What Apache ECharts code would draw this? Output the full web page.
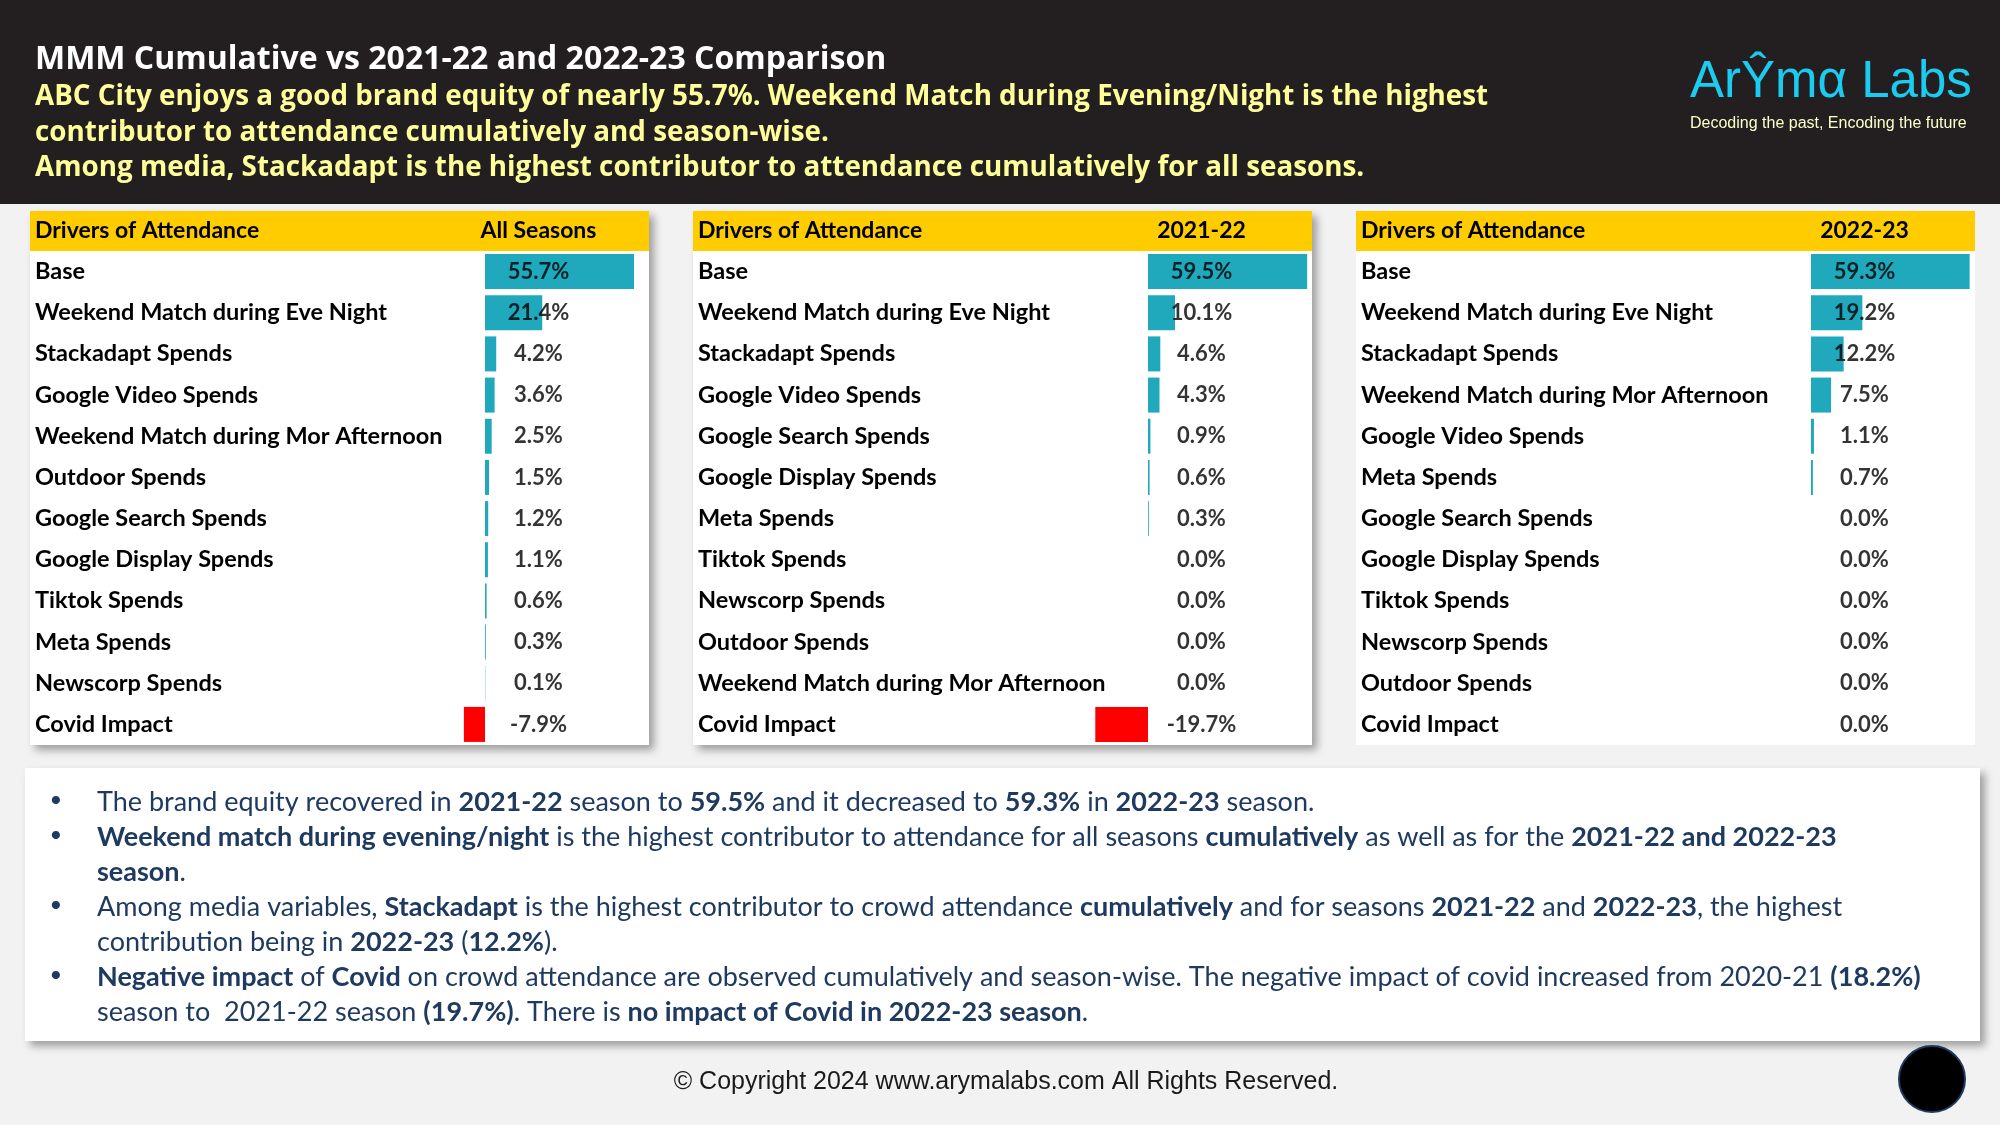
<!DOCTYPE html>
<html>
<head>
<meta charset="utf-8">
<title>MMM Cumulative vs 2021-22 and 2022-23 Comparison</title>
<script src="https://cdn.jsdelivr.net/npm/echarts@6/dist/echarts.min.js"></script>
<style>
  html, body { margin: 0; padding: 0; background: #f2f2f2; }
  #main { width: 2000px; height: 1125px; }
</style>
</head>
<body>
<div id="main"></div>
<script>
var seasonTitles = ['All Seasons', '2021-22', '2022-23'];

var driversAll = ['Base', 'Weekend Match during Eve Night', 'Stackadapt Spends', 'Google Video Spends',
  'Weekend Match during Mor Afternoon', 'Outdoor Spends', 'Google Search Spends', 'Google Display Spends',
  'Tiktok Spends', 'Meta Spends', 'Newscorp Spends', 'Covid Impact'];
var shareAll = [55.7, 21.4, 4.2, 3.6, 2.5, 1.5, 1.2, 1.1, 0.6, 0.3, 0.1, -7.9];

var drivers2122 = ['Base', 'Weekend Match during Eve Night', 'Stackadapt Spends', 'Google Video Spends',
  'Google Search Spends', 'Google Display Spends', 'Meta Spends', 'Tiktok Spends', 'Newscorp Spends',
  'Outdoor Spends', 'Weekend Match during Mor Afternoon', 'Covid Impact'];
var share2122 = [59.5, 10.1, 4.6, 4.3, 0.9, 0.6, 0.3, 0.0, 0.0, 0.0, 0.0, -19.7];

var drivers2223 = ['Base', 'Weekend Match during Eve Night', 'Stackadapt Spends', 'Weekend Match during Mor Afternoon',
  'Google Video Spends', 'Meta Spends', 'Google Search Spends', 'Google Display Spends', 'Tiktok Spends',
  'Newscorp Spends', 'Outdoor Spends', 'Covid Impact'];
var share2223 = [59.3, 19.2, 12.2, 7.5, 1.1, 0.7, 0.0, 0.0, 0.0, 0.0, 0.0, 0.0];

var tables = [
  { title: seasonTitles[0], drivers: driversAll, share: shareAll },
  { title: seasonTitles[1], drivers: drivers2122, share: share2122 },
  { title: seasonTitles[2], drivers: drivers2223, share: share2223 }
];

var headline = 'MMM Cumulative vs 2021-22 and 2022-23 Comparison';
var subLines = [
  'ABC City enjoys a good brand equity of nearly 55.7%. Weekend Match during Evening/Night is the highest',
  'contributor to attendance cumulatively and season-wise.',
  'Among media, Stackadapt is the highest contributor to attendance cumulatively for all seasons.'
];

// ** marks bold runs
var notes = [
  { dot: true,  text: 'The brand equity recovered in **2021-22** season to **59.5%** and it decreased to **59.3%** in **2022-23** season.' },
  { dot: true,  text: '**Weekend match during evening/night** is the highest contributor to attendance for all seasons **cumulatively** as well as for the **2021-22 and 2022-23**' },
  { dot: false, text: '**season**.' },
  { dot: true,  text: 'Among media variables, **Stackadapt** is the highest contributor to crowd attendance **cumulatively** and for seasons **2021-22** and **2022-23**, the highest' },
  { dot: false, text: 'contribution being in **2022-23** (**12.2%**).' },
  { dot: true,  text: '**Negative impact** of **Covid** on crowd attendance are observed cumulatively and season-wise. The negative impact of covid increased from 2020-21 **(18.2%)**' },
  { dot: false, text: 'season to  2021-22 season **(19.7%)**. There is **no impact of Covid in 2022-23 season**.' }
];

var TEAL = '#20a8bc';
var NAVY = '#1f3a60';
var tblFont = 'Lato, "Noto Sans", sans-serif';
var txtFont = 'Lato, "Noto Sans", sans-serif';
var headFont = '"Open Sans", Lato, sans-serif';
var arial = '"Liberation Sans", Arial, sans-serif';

var boxLeft = [30, 693, 1356];
var boxW = 619;
var zeroX = [485, 1148, 1811];
var pxPerPct = 2.675;
var vMin = -20, vMax = 60;
var headTop = 211, headH = 40, bodyTop = 251, bodyBottom = 745;

function toRich(s) {
  var parts = s.split('**');
  var out = '';
  for (var i = 0; i < parts.length; i++) {
    if (parts[i] === '') continue;
    out += '{' + (i % 2 ? 'b' : 'r') + '|' + parts[i] + '}';
  }
  return out;
}

var grids = [], xAxes = [], yAxes = [], series = [], gfx = [];

// header band
gfx.push({ type: 'rect', shape: { x: 0, y: 0, width: 2000, height: 204 }, style: { fill: '#231f20' }, z: -10 });
gfx.push({ type: 'text', x: 35, y: 59.5, style: { text: headline, fill: '#ffffff', font: 'bold 32px ' + headFont, verticalAlign: 'middle' } });
for (var s = 0; s < subLines.length; s++) {
  gfx.push({ type: 'text', x: 35, y: 97.5 + s * 35.5, style: { text: subLines[s], fill: '#ffff99', font: 'bold 27.8px ' + headFont, verticalAlign: 'middle' } });
}
gfx.push({ type: 'text', x: 1690, y: 83, style: { text: 'Ar\u0176m\u03b1 Labs', fill: '#1ccbf0', font: '51px ' + arial, verticalAlign: 'middle' } });
gfx.push({ type: 'text', x: 1690, y: 124, style: { text: 'Decoding the past, Encoding the future', fill: '#ffffcc', font: '16px ' + arial, verticalAlign: 'middle' } });

tables.forEach(function (t, i) {
  var gl = zeroX[i] - (0 - vMin) * pxPerPct;
  var shadow = i < 2 ? { shadowBlur: 8, shadowOffsetX: 5, shadowOffsetY: 5, shadowColor: 'rgba(0,0,0,0.35)' } : {};
  gfx.push({ type: 'rect', z: -5, shape: { x: boxLeft[i], y: headTop, width: boxW, height: bodyBottom - headTop },
    style: Object.assign({ fill: '#ffffff' }, shadow) });
  gfx.push({ type: 'rect', z: -4, shape: { x: boxLeft[i], y: headTop, width: boxW, height: headH }, style: { fill: '#ffcc00' } });
  gfx.push({ type: 'text', x: boxLeft[i] + 5, y: headTop + headH / 2, style: { text: 'Drivers of Attendance', fill: '#000', font: 'bold 23px ' + tblFont, verticalAlign: 'middle' } });
  gfx.push({ type: 'text', x: zeroX[i] + 20 * pxPerPct, y: headTop + headH / 2, style: { text: t.title, fill: '#000', font: 'bold 23px ' + tblFont, align: 'center', verticalAlign: 'middle' } });

  grids.push({ left: gl, top: bodyTop, width: (vMax - vMin) * pxPerPct, height: bodyBottom - bodyTop, containLabel: false });
  xAxes.push({ gridIndex: i, type: 'value', min: vMin, max: vMax, show: false });
  yAxes.push({
    gridIndex: i, type: 'category', data: t.drivers, inverse: true,
    axisLine: { show: false }, axisTick: { show: false }, splitLine: { show: false },
    axisLabel: { align: 'left', margin: gl - (boxLeft[i] + 5), color: '#000', fontFamily: tblFont, fontWeight: 'bold', fontSize: 23.5 }
  });
  series.push({
    type: 'bar', xAxisIndex: i, yAxisIndex: i, barWidth: 35, silent: true,
    data: t.share.map(function (v) {
      return { value: v, itemStyle: { color: v < 0 ? '#ff0000' : TEAL } };
    })
  });
  // value column sits at a fixed spot (20 on the value scale)
  series.push({
    type: 'scatter', xAxisIndex: i, yAxisIndex: i, symbolSize: 1, silent: true, z: 5,
    itemStyle: { color: 'rgba(0,0,0,0)' },
    data: t.share.map(function (v, j) { return [20, j, v]; }),
    label: {
      show: true, position: 'inside', color: '#000', fontFamily: tblFont, fontWeight: 'bold', fontSize: 22,
      formatter: function (p) { return p.value[2].toFixed(1) + '%'; }
    }
  });
});

// notes box
gfx.push({ type: 'rect', z: -5, shape: { x: 25, y: 768, width: 1955, height: 273 },
  style: { fill: '#ffffff', shadowBlur: 8, shadowOffsetX: 5, shadowOffsetY: 5, shadowColor: 'rgba(0,0,0,0.35)' } });
var richStyles = {
  r: { fontFamily: txtFont, fontSize: 27, fill: NAVY },
  b: { fontFamily: txtFont, fontSize: 27, fontWeight: 'bold', fill: NAVY }
};
notes.forEach(function (n, k) {
  var y = 802 + k * 35;
  if (n.dot) {
    gfx.push({ type: 'text', x: 56, y: y - 2, style: { text: '\u2022', fill: NAVY, font: '22px ' + txtFont, align: 'center', verticalAlign: 'middle' } });
  }
  gfx.push({ type: 'text', x: 97, y: y, style: { text: toRich(n.text), rich: richStyles, fill: NAVY, font: '27px ' + txtFont, verticalAlign: 'middle' } });
});

// footer
gfx.push({ type: 'text', x: 1006, y: 1082, style: { text: '\u00a9 Copyright 2024 www.arymalabs.com All Rights Reserved.', fill: '#1a1a1a', font: '25px ' + arial, align: 'center', verticalAlign: 'middle' } });
gfx.push({ type: 'circle', shape: { cx: 1932, cy: 1079, r: 33 }, style: { fill: '#000000', stroke: '#1f3a5f', lineWidth: 2 } });

var chart = echarts.init(document.getElementById('main'));
chart.setOption({
  backgroundColor: '#f2f2f2',
  animation: false,
  grid: grids,
  xAxis: xAxes,
  yAxis: yAxes,
  series: series,
  graphic: { elements: gfx }
});
</script>
</body>
</html>
